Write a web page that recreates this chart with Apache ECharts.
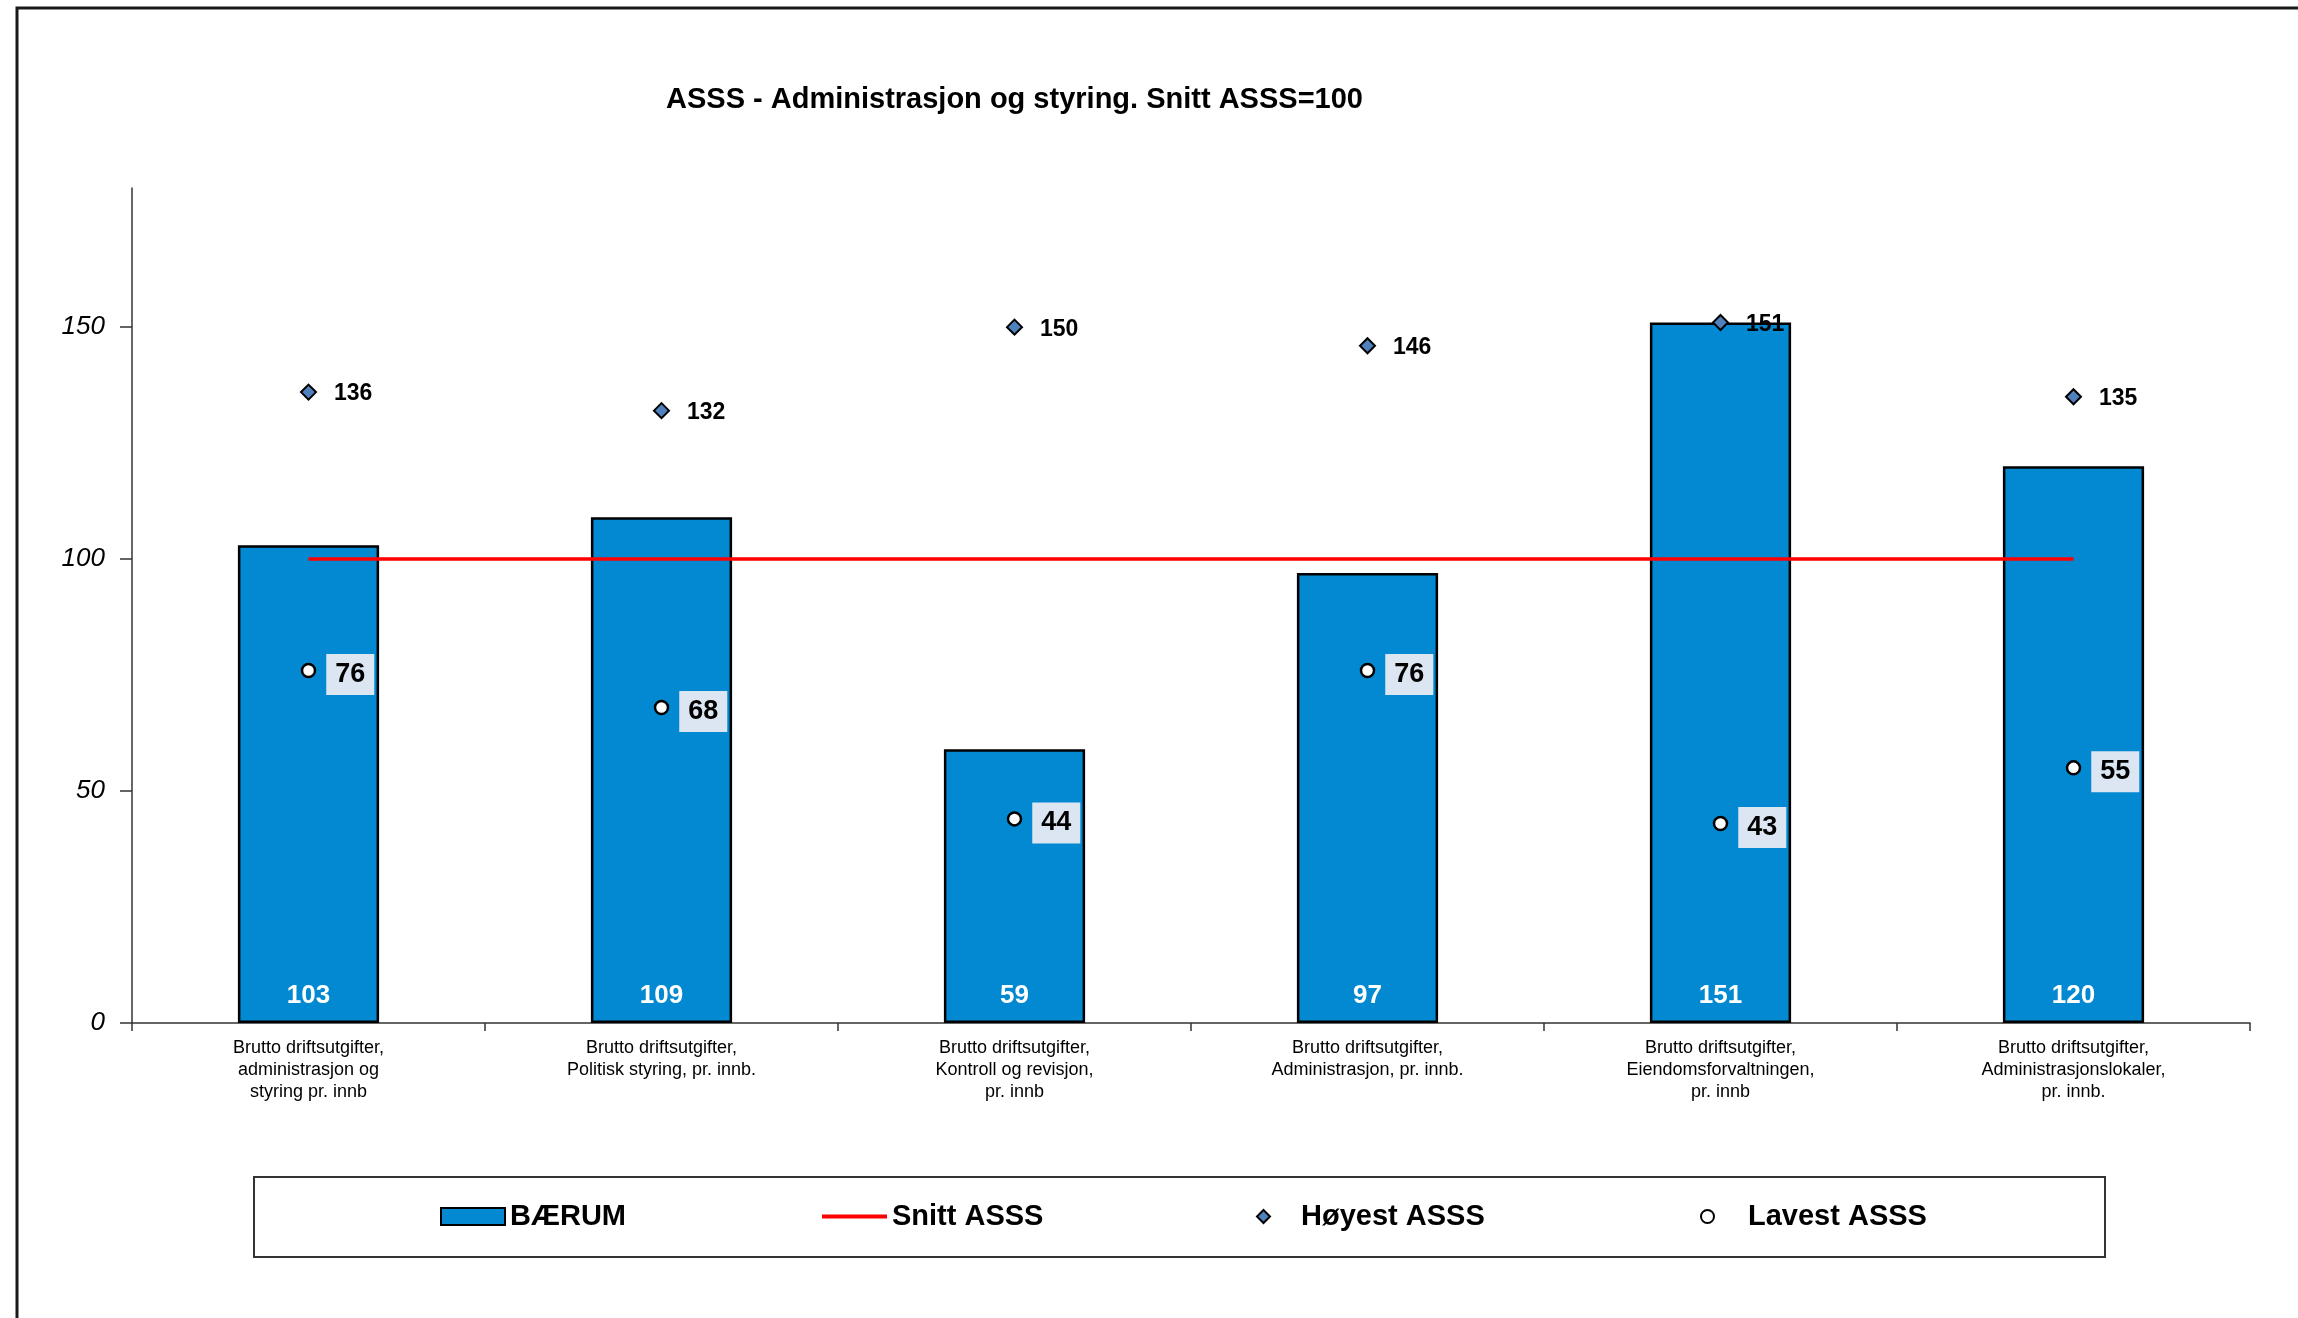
<!DOCTYPE html>
<html>
<head>
<meta charset="utf-8">
<script src="https://cdn.jsdelivr.net/npm/echarts@6/dist/echarts.min.js"></script>
<style>html,body{margin:0;padding:0;background:#fff;}#c{width:2298px;height:1318px;}</style>
</head>
<body>
<div id="c"></div>
<script>
const categories = [
  "Brutto driftsutgifter,\nadministrasjon og\nstyring pr. innb",
  "Brutto driftsutgifter,\nPolitisk styring, pr. innb.",
  "Brutto driftsutgifter,\nKontroll og revisjon,\npr. innb",
  "Brutto driftsutgifter,\nAdministrasjon, pr. innb.",
  "Brutto driftsutgifter,\nEiendomsforvaltningen,\npr. innb",
  "Brutto driftsutgifter,\nAdministrasjonslokaler,\npr. innb."
];
const baerum = [103, 109, 59, 97, 151, 120];
const snitt = [100, 100, 100, 100, 100, 100];
const hoyest = [136, 132, 150, 146, 151, 135];
const lavest = [76, 68, 44, 76, 43, 55];
const yTicks = [0, 50, 100, 150];

const FONT = "'Liberation Sans', Arial, sans-serif";
const chart = echarts.init(document.getElementById('c'), null, {renderer: 'canvas'});

function legendAt(name, icon, left, w, h, padLeft) {
  return {
    data: [{name: name, icon: icon}], left: left, top: 1202, itemWidth: w, itemHeight: h,
    symbolKeepAspect: true,
    textStyle: {fontFamily: FONT, fontSize: 29, fontWeight: 'bold', color: '#000', padding: [0, 0, 0, padLeft]},
    selectedMode: false, padding: 0
  };
}

chart.setOption({
  backgroundColor: '#fff',
  animation: false,
  title: {
    text: 'ASSS - Administrasjon og styring. Snitt ASSS=100',
    left: 661, top: 80,
    textStyle: {fontFamily: FONT, fontSize: 29, fontWeight: 'bold', color: '#000'}
  },
  graphic: [
    {type: 'rect', shape: {x: 17, y: 8, width: 2400, height: 1400}, style: {fill: 'none', stroke: '#1a1a1a', lineWidth: 3}, silent: true},
    {type: 'rect', shape: {x: 254, y: 1177, width: 1851, height: 80}, style: {fill: 'none', stroke: '#333', lineWidth: 2}, silent: true}
  ],
  legend: [
    legendAt('BÆRUM', 'rect', 440, 64, 17, 0),
    legendAt('Snitt ASSS', 'rect', 822, 65, 4, 0),
    legendAt('Høyest ASSS', 'diamond', 1256, 13, 13, 26),
    legendAt('Lavest ASSS', 'circle', 1700, 13, 13, 29)
  ],
  grid: {left: 132, right: 48, top: 188, bottom: 295, containLabel: false},
  xAxis: {
    type: 'category',
    data: categories,
    boundaryGap: true,
    axisLine: {lineStyle: {color: '#333', width: 1.5}},
    axisTick: {show: true, length: 8, lineStyle: {color: '#333', width: 1.5}},
    axisLabel: {fontFamily: FONT, fontSize: 18, color: '#000', lineHeight: 22, margin: 14, interval: 0}
  },
  yAxis: {
    type: 'value', min: 0, max: 180, interval: 50,
    splitLine: {show: false},
    axisLine: {show: true, lineStyle: {color: '#333', width: 1.5}},
    axisTick: {show: true, length: 12, customValues: yTicks, lineStyle: {color: '#333', width: 1.5}},
    axisLabel: {
      customValues: yTicks,
      fontFamily: FONT, fontSize: 26, fontStyle: 'italic', color: '#000', margin: 27,
      formatter: v => (yTicks.indexOf(v) >= 0 ? String(v) : '')
    }
  },
  series: [
    {
      name: 'BÆRUM', type: 'bar', data: baerum, barWidth: '40%',
      itemStyle: {color: '#0289D1', borderColor: '#000', borderWidth: 2.5},
      label: {show: true, position: 'insideBottom', distance: 14, color: '#fff', fontFamily: FONT, fontSize: 26, fontWeight: 'bold'},
      z: 2
    },
    {
      name: 'Snitt ASSS', type: 'line', data: snitt, symbol: 'none',
      lineStyle: {color: '#FF0000', width: 3.5}, itemStyle: {color: '#FF0000'},
      z: 3
    },
    {
      name: 'Høyest ASSS', type: 'scatter', data: hoyest, symbol: 'diamond', symbolSize: 15,
      itemStyle: {color: '#4F81BD', borderColor: '#000', borderWidth: 2, opacity: 1},
      label: {show: true, position: 'right', distance: 17, offset: [0, 2], color: '#000', fontFamily: FONT, fontSize: 23, fontWeight: 'bold'},
      z: 4
    },
    {
      name: 'Lavest ASSS', type: 'scatter', data: lavest, symbol: 'circle', symbolSize: 13,
      itemStyle: {color: '#fff', borderColor: '#000', borderWidth: 2.5, opacity: 1},
      label: {show: true, position: 'right', distance: 10, offset: [0, 4], color: '#000', fontFamily: FONT, fontSize: 27, fontWeight: 'bold',
              backgroundColor: '#DCE6F2', padding: [8, 9, 6, 9]},
      z: 4
    }
  ]
});
</script>
</body>
</html>
